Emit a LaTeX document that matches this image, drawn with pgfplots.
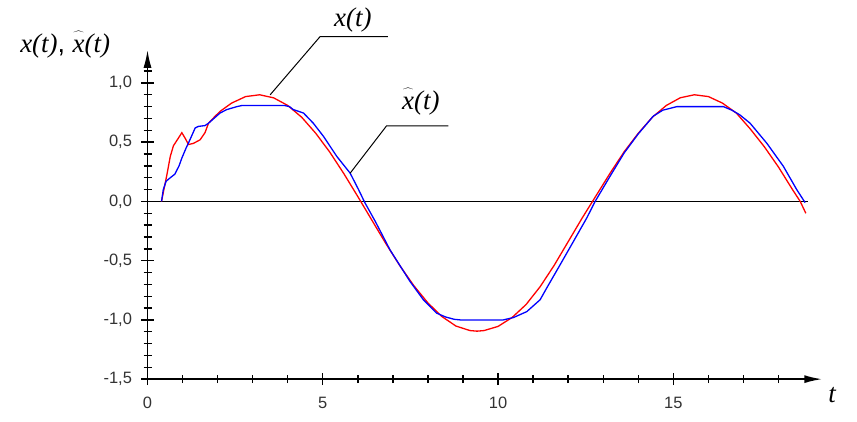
\documentclass[border=0pt]{standalone}
\usepackage{fontspec}
\setmainfont{Liberation Sans}
\newfontfamily\tnr{Liberation Serif}
\usepackage{pgfplots}
\pgfplotsset{compat=1.18}
\usetikzlibrary{arrows.meta}

\newcommand{\xt}{{\tnr\itshape x(t)}}
\newcommand{\xht}{{\tnr\itshape$\widehat{\vphantom{(}\hbox{\tnr\itshape x}}$(t)}}

\begin{document}
\begin{tikzpicture}
\begin{axis}[
  scale only axis, width=674bp, height=329bp,
  xmin=0, xmax=19.25, ymin=-1.5, ymax=1.28,
  enlargelimits=false, clip=false,
  axis lines=left,
  axis line style={line width=1.8bp, -{Latex[length=18bp,width=8bp]}},
  xtick={0,5,10,15}, minor xtick={1,...,18},
  ytick={-1.5,-1,-0.5,0,0.5,1},
  minor ytick={-1.4,-1.3,-1.2,-1.1,-0.9,-0.8,-0.7,-0.6,-0.4,-0.3,-0.2,-0.1,0.1,0.2,0.3,0.4,0.6,0.7,0.8,0.9,1.1},
  tick align=center,
  major tick length=12bp, minor tick length=8bp,
  tick style={black, line width=1.4bp},
  tick label style={font=\fontsize{16.5}{19}\selectfont, text=black!80},
  yticklabel style={xshift=-6bp, /pgf/number format/.cd, fixed, fixed zerofill, precision=1, use comma, assume math mode=true},
  xticklabel style={yshift=-8bp, /pgf/number format/assume math mode=true},
]
% zero line
\addplot[black, line width=1.2bp] coordinates {(0,0) (18.85,0)};

% x(t)
\addplot[red, line width=1.3bp] coordinates {
(0.40,0) (0.55,0.22) (0.65,0.38) (0.74,0.47) (0.85,0.52) (0.98,0.58)
(1.08,0.53) (1.17,0.48) (1.31,0.49) (1.50,0.52) (1.64,0.58) (1.74,0.66)
(1.90,0.71) (2.07,0.76) (2.40,0.83) (2.80,0.885) (3.20,0.90) (3.60,0.874)
(4.00,0.81) (4.40,0.71) (4.80,0.575) (5.20,0.416) (5.60,0.235) (6.00,0.041)
(6.40,-0.158) (6.80,-0.356) (7.20,-0.543) (7.60,-0.712) (8.00,-0.857)
(8.40,-0.972) (8.80,-1.052) (9.20,-1.09) (9.40,-1.095) (9.60,-1.09)
(10.00,-1.055) (10.40,-0.98) (10.80,-0.87) (11.20,-0.72) (11.60,-0.54)
(12.00,-0.34) (12.40,-0.14) (12.80,0.05) (13.20,0.24) (13.60,0.42)
(14.00,0.575) (14.40,0.71) (14.80,0.81) (15.20,0.875) (15.60,0.90)
(16.00,0.885) (16.40,0.83) (16.80,0.745) (17.20,0.61) (17.60,0.46)
(18.00,0.29) (18.40,0.10) (18.62,0.0) (18.78,-0.1)
};

% x hat (t)
\addplot[blue, line width=1.3bp] coordinates {
(0.40,0) (0.45,0.10) (0.53,0.17) (0.65,0.20) (0.78,0.23) (0.90,0.30)
(0.98,0.366) (1.10,0.45) (1.21,0.52) (1.36,0.62) (1.45,0.633) (1.64,0.64)
(1.74,0.66) (2.07,0.746) (2.26,0.775) (2.55,0.80) (2.70,0.81) (3.90,0.81)
(4.05,0.80) (4.16,0.775) (4.45,0.746) (4.73,0.66) (5.02,0.549) (5.40,0.38)
(5.78,0.239) (6.02,0.10) (6.20,-0.01) (6.50,-0.17) (6.92,-0.41) (7.49,-0.676)
(7.87,-0.83) (8.25,-0.943) (8.50,-0.975) (8.75,-0.995) (8.92,-1.0)
(10.15,-1.0) (10.44,-0.98) (10.82,-0.93) (11.20,-0.83) (11.39,-0.73)
(11.77,-0.535) (12.15,-0.338) (12.53,-0.14) (12.77,0.0) (13.20,0.215)
(13.60,0.41) (14.00,0.57) (14.43,0.72) (14.70,0.77) (15.10,0.80)
(16.43,0.80) (16.67,0.77) (16.90,0.73) (17.19,0.66) (17.67,0.49)
(18.14,0.296) (18.52,0.10) (18.76,-0.01)
};

% leaders and labels
\draw[black, line width=1bp] (axis cs:3.50,0.90) -- (axis cs:4.92,1.39) -- (axis cs:6.86,1.39);
\node[font=\fontsize{27}{30}\selectfont] at (axis cs:5.86,1.53) {\xt};
\draw[black, line width=1bp] (axis cs:5.78,0.238) -- (axis cs:6.82,0.638) -- (axis cs:8.58,0.638);
\node[font=\fontsize{27}{30}\selectfont] at (axis cs:7.80,0.84) {\xht};
\node[font=\fontsize{27}{30}\selectfont] at (axis cs:-2.35,1.32) {\xt, \xht};
\node[font=\fontsize{27}{30}\selectfont] at (axis cs:19.53,-1.63) {\tnr\itshape t};

% page extent
\path (axis cs:-4.208,-1.855) rectangle (axis cs:20.24,1.70);
\end{axis}
\end{tikzpicture}
\end{document}
